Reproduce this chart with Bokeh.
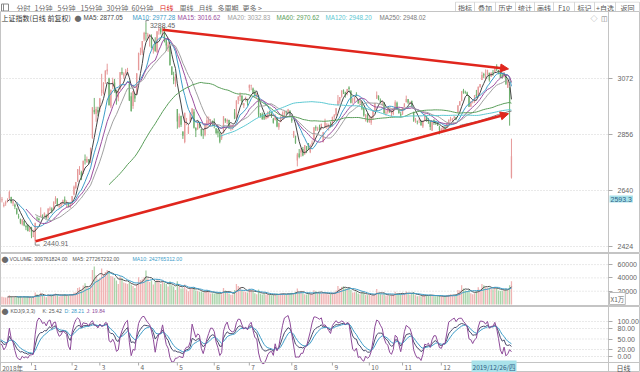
import numpy as np
from bokeh.plotting import figure
from bokeh.layouts import column
from bokeh.models import Range1d, FixedTicker, Label, Arrow, NormalHead, NumeralTickFormatter, LinearAxis
from bokeh.core.properties import value
from bokeh.embed import file_html
from bokeh.resources import INLINE

CJK = "Noto Sans CJK SC"
LAT = "Liberation Sans"

# ---------------- data (daily, 2018-12-06 .. 2020-02-03) ----------------
opens = [
    # 2018-12
    2604, 2602, 2580, 2590, 2598, 2610, 2614, 2590, 2585, 2570, 2540, 2530, 2510, 2522, 2503, 2505, 2489,
    # 2019-01
    2497, 2461, 2446, 2535, 2531, 2540, 2540, 2540, 2545, 2536, 2567, 2570, 2567, 2596, 2608, 2577, 2580, 2591, 2605, 2593, 2590, 2578,
    # 02
    2587, 2625, 2650, 2674, 2715, 2710, 2705, 2760, 2750, 2760, 2748, 2842, 2950, 2935, 2950,
    # 03
    2954, 3016, 3025, 3060, 3100, 3071, 2964, 3041, 3056, 3020, 2999, 3030, 3097, 3080, 3092, 3101, 3050, 3003, 2966, 3010, 3011,
    # 04
    3104, 3176, 3171, 3222, 3248, 3236, 3237, 3230, 3182, 3210, 3174, 3256, 3265, 3258, 3268, 3220, 3190, 3196, 3117, 3078, 3052,
    # 05
    2954, 2885, 2927, 2867, 2827, 2903, 2860, 2906, 2934, 2943, 2881, 2876, 2895, 2877, 2855, 2854, 2890, 2899, 2897, 2906,
    # 06
    2905, 2879, 2870, 2863, 2842, 2861, 2917, 2906, 2911, 2882, 2886, 2940, 2919, 2988, 3001, 3006, 2968, 2990, 2990,
    # 07
    3036, 3043, 3033, 3019, 3001, 3006, 2933, 2935, 2931, 2918, 2920, 2943, 2935, 2916, 2913, 2920, 2884, 2904, 2922, 2934, 2943, 2943, 2948,
    # 08
    2917, 2849, 2851, 2756, 2782, 2787, 2800, 2780, 2810, 2823, 2788, 2818, 2835, 2883, 2874, 2884, 2882, 2827, 2882, 2894, 2887, 2894,
    # 09
    2887, 2923, 2931, 2969, 2986, 3002, 3026, 3018, 3014, 3037, 3025, 2985, 2985, 3008, 2990, 2978, 2982, 2958, 2922, 2929,
    # 10
    2905, 2901, 2925, 2947, 2995, 3005, 2989, 2977, 2979, 2937, 2943, 2951, 2938, 2935, 2957, 2978, 2952, 2935,
    # 11
    2933, 2961, 2980, 2992, 2977, 2986, 2943, 2906, 2907, 2910, 2906, 2887, 2912, 2926, 2905, 2904, 2870, 2913, 2904, 2903, 2885,
    # 12
    2868, 2870, 2880, 2885, 2895, 2910, 2913, 2919, 2922, 2942, 2970, 2985, 3026, 3018, 3017, 3003, 2964, 2980, 2982, 3010, 3002, 3039,
    # 2020-01
    3066, 3089, 3070, 3085, 3094, 3079, 3096, 3097, 3119, 3104, 3090, 3087, 3083, 3088, 3036, 3037,
    # 2020-02
    2690,
]
highs = [
    2626, 2615, 2594, 2601, 2610, 2640, 2616, 2601, 2590, 2573, 2550, 2532, 2530, 2525, 2508, 2510, 2500,
    2500, 2489, 2515, 2540, 2535, 2575, 2548, 2555, 2548, 2571, 2578, 2575, 2598, 2618, 2610, 2587, 2594, 2605, 2617, 2602, 2593, 2596,
    2618, 2659, 2673, 2723, 2734, 2716, 2755, 2779, 2771, 2761, 2805, 2961, 2997, 2963, 2963,
    2997, 3090, 3058, 3103, 3129, 3075, 3030, 3075, 3070, 3029, 3034, 3097, 3114, 3096, 3109, 3113, 3063, 3018, 3024, 3014, 3093,
    3172, 3191, 3216, 3252, 3288.45, 3248, 3243, 3242, 3196, 3231, 3254, 3270, 3266, 3275, 3269, 3225, 3212, 3198, 3120, 3098, 3089,
    2954, 2937, 2929, 2868, 2940, 2920, 2893, 2942, 2958, 2954, 2884, 2907, 2905, 2878, 2875, 2900, 2927, 2925, 2916, 2910,
    2918, 2881, 2877, 2864, 2862, 2926, 2917, 2917, 2913, 2895, 2892, 2954, 2988, 3003, 3018, 3006, 2978, 3002, 2994,
    3049, 3048, 3037, 3028, 3016, 3006, 2939, 2941, 2939, 2934, 2945, 2948, 2943, 2920, 2934, 2921, 2902, 2927, 2945, 2946, 2948, 2955, 2948,
    2923, 2870, 2851, 2785, 2800, 2805, 2808, 2815, 2811, 2823, 2817, 2833, 2884, 2891, 2886, 2894, 2897, 2866, 2917, 2900, 2898, 2905,
    2924, 2935, 2958, 3008, 3000, 3026, 3030, 3021, 3032, 3042, 3025, 2997, 3000, 3019, 2991, 2986, 2982, 2962, 2935, 2939,
    2931, 2925, 2949, 2979, 3022, 3007, 2995, 2987, 2981, 2950, 2957, 2956, 2950, 2958, 2988, 2983, 2956, 2943,
    2961, 2976, 3006, 2992, 2984, 2986, 2943, 2920, 2910, 2918, 2912, 2910, 2936, 2927, 2920, 2907, 2906, 2913, 2909, 2904, 2890,
    2882, 2887, 2891, 2901, 2914, 2924, 2918, 2928, 2924, 2968, 2985, 3023, 3032, 3025, 3021, 3005, 2983, 2986, 3008, 3028, 3041, 3050,
    3098, 3094, 3107, 3105, 3094, 3095, 3105, 3116, 3127, 3105, 3095, 3092, 3096, 3088, 3068, 3037,
    2840,
]
lows = [
    2595, 2594, 2575, 2581, 2594, 2605, 2590, 2580, 2568, 2547, 2531, 2510, 2505, 2502, 2487, 2483, 2480,
    2456, 2460, 2440.91, 2525, 2521, 2538, 2530, 2537, 2530, 2531, 2560, 2552, 2563, 2588, 2579, 2571, 2575, 2585, 2591, 2574, 2575, 2572,
    2585, 2621, 2645, 2674, 2700, 2680, 2705, 2740, 2746, 2742, 2746, 2840, 2934, 2905, 2927,
    2943, 3005, 3010, 3051, 3087, 2967, 2958, 3031, 3017, 2971, 2984, 3030, 3085, 3070, 3087, 3085, 2985, 2944, 2955, 2981, 3010,
    3104, 3162, 3163, 3215, 3218, 3224, 3195, 3188, 3168, 3175, 3170, 3241, 3242, 3238, 3211, 3178, 3175, 3121, 3085, 3050, 3040,
    2878, 2882, 2885, 2839, 2822, 2892, 2858, 2904, 2927, 2879, 2846, 2874, 2880, 2849, 2839, 2849, 2881, 2895, 2888, 2888,
    2880, 2856, 2845, 2822, 2835, 2861, 2901, 2896, 2877, 2870, 2874, 2915, 2918, 2973, 2985, 2970, 2958, 2983, 2967,
    3022, 3027, 3012, 3003, 2995, 2923, 2921, 2913, 2912, 2914, 2918, 2931, 2920, 2898, 2910, 2884, 2874, 2903, 2915, 2925, 2932, 2938, 2926,
    2901, 2843, 2820, 2733, 2764, 2770, 2772, 2778, 2784, 2796, 2784, 2812, 2832, 2870, 2870, 2873, 2875, 2825, 2881, 2877, 2871, 2883,
    2887, 2913, 2928, 2968, 2975, 2998, 3012, 2998, 3007, 3021, 2976, 2975, 2980, 3003, 2974, 2969, 2950, 2925, 2906, 2902,
    2901, 2893, 2913, 2947, 2993, 2988, 2976, 2966, 2936, 2929, 2936, 2940, 2924, 2930, 2957, 2951, 2936, 2922,
    2932, 2961, 2980, 2974, 2973, 2961, 2905, 2901, 2895, 2900, 2891, 2881, 2906, 2905, 2897, 2873, 2870, 2893, 2893, 2889, 2857,
    2863, 2867, 2872, 2881, 2892, 2906, 2904, 2915, 2911, 2940, 2966, 2984, 3013, 3013, 3004, 2962, 2962, 2976, 2978, 2997, 2998, 3036,
    3066, 3074, 3065, 3084, 3060, 3079, 3082, 3096, 3100, 3088, 3074, 3071, 3075, 3047, 3036, 2890,
    2686,
]
closes = [
    2605, 2606, 2585, 2594, 2602, 2634, 2594, 2598, 2577, 2550, 2536, 2516, 2527, 2505, 2498, 2483, 2494,
    2465, 2464, 2515, 2533, 2526, 2544, 2535, 2554, 2536, 2570, 2570, 2560, 2596, 2611, 2580, 2581, 2592, 2602, 2597, 2594, 2576, 2585,
    2618, 2654, 2672, 2721, 2720, 2682, 2754, 2756, 2761, 2752, 2804, 2961, 2942, 2954, 2941,
    2994, 3028, 3054, 3102, 3106, 2970, 3027, 3060, 3027, 2991, 3022, 3096, 3091, 3091, 3101, 3104, 2987, 2947, 3023, 2995, 3091,
    3170, 3177, 3216, 3247, 3245, 3240, 3242, 3190, 3189, 3178, 3254, 3263, 3250, 3271, 3215, 3199, 3202, 3124, 3086, 3063, 3078,
    2906, 2926, 2894, 2851, 2939, 2904, 2884, 2939, 2956, 2882, 2871, 2906, 2892, 2853, 2853, 2892, 2910, 2915, 2906, 2899,
    2890, 2862, 2861, 2828, 2852, 2926, 2909, 2911, 2882, 2888, 2890, 2918, 2987, 3002, 3008, 2982, 2976, 2997, 2979,
    3045, 3044, 3015, 3005, 3011, 2933, 2928, 2915, 2918, 2931, 2942, 2938, 2932, 2901, 2924, 2887, 2900, 2923, 2937, 2945, 2941, 2952, 2933,
    2909, 2868, 2822, 2778, 2769, 2795, 2775, 2815, 2797, 2809, 2816, 2824, 2883, 2880, 2880, 2883, 2897, 2864, 2902, 2894, 2891, 2886,
    2924, 2930, 2957, 2986, 3000, 3025, 3021, 3009, 3031, 3031, 2978, 2985, 2999, 3006, 2977, 2985, 2955, 2929, 2932, 2905,
    2914, 2925, 2948, 2974, 3008, 2991, 2979, 2977, 2938, 2940, 2954, 2942, 2941, 2955, 2980, 2954, 2939, 2929,
    2958, 2975, 2992, 2979, 2979, 2964, 2910, 2915, 2905, 2910, 2891, 2909, 2934, 2911, 2904, 2885, 2906, 2907, 2903, 2890, 2872,
    2876, 2885, 2878, 2899, 2912, 2914, 2917, 2924, 2916, 2968, 2984, 3022, 3017, 3017, 3005, 2963, 2983, 2982, 3007, 3005, 3040, 3050,
    3085, 3084, 3083, 3105, 3067, 3095, 3092, 3116, 3107, 3090, 3074, 3076, 3096, 3052, 3061, 2977,
    2772,
]
volumes = [  # unit: 万
    13000, 11500, 11000, 10500, 10800, 14000, 12000, 10500, 11000, 11800, 11500, 12500, 10000, 12000, 10500, 12000, 11500,
    10200, 11800, 18000, 15500, 13500, 17500, 13500, 12500, 11000, 15500, 14500, 13000, 15800, 16500, 15000, 12000, 12800, 15000, 15800, 14500, 13000, 14500,
    15000, 18000, 18000, 25000, 26000, 21000, 28500, 32000, 27000, 25000, 29000, 52000, 57000, 44000, 38000,
    40000, 54000, 46000, 49000, 52000, 49000, 43000, 42000, 40000, 36000, 31000, 42000, 40000, 33000, 32000, 31000, 33000, 30000, 28000, 25000, 31000,
    41000, 37000, 38000, 41000, 51000, 39000, 34000, 36000, 30000, 34000, 38000, 36000, 31000, 34000, 33000, 31000, 27000, 35000, 29000, 27000, 22000,
    35000, 27000, 24000, 24500, 30000, 23000, 20000, 25000, 26000, 25000, 21000, 20500, 19000, 19500, 18000, 18500, 22000, 20000, 16500, 17000,
    16500, 18000, 17000, 17500, 15500, 25000, 21000, 18000, 16500, 14500, 15000, 22000, 31000, 28000, 26500, 21000, 19500, 19000, 18000,
    24000, 21500, 19000, 17000, 15500, 22500, 16500, 15000, 16500, 15000, 15500, 14500, 14000, 15000, 14500, 17000, 15500, 16000, 16500, 15500, 15000, 17000, 16000,
    17500, 16500, 19000, 24000, 17500, 18500, 17000, 15500, 15000, 16500, 16000, 15000, 21500, 20000, 18000, 17500, 17000, 17500, 17500, 16000, 15000, 15500,
    18000, 18500, 21000, 28000, 24000, 26500, 27500, 24000, 23500, 25000, 22000, 18000, 18500, 19500, 16500, 15500, 18000, 17500, 14500, 14000,
    14500, 13000, 15500, 16000, 23500, 17500, 15500, 14500, 16500, 13500, 14000, 13000, 14500, 15000, 19000, 17000, 15500, 15000,
    17500, 16500, 19500, 16500, 15000, 16500, 18500, 14000, 12500, 13000, 12500, 13000, 15000, 14500, 13000, 14500, 13500, 13500, 12500, 12500, 13000,
    12500, 11500, 12000, 14000, 14500, 15500, 13500, 14000, 14500, 22000, 21000, 29000, 24000, 21000, 20000, 22000, 17000, 15500, 17000, 20500, 26000, 22500,
    31000, 29000, 26000, 25000, 25500, 24500, 23000, 26500, 25000, 21000, 20500, 21000, 22000, 24500, 23000, 29000,
    35000,
]
month_tick_idx = [0, 17, 39, 54, 75, 96, 116, 135, 158, 180, 200, 218, 239]
month_tick_labels = ["2018年", "1", "2", "3", "4", "5", "6", "7", "8", "9", "10", "11", "12"]
cursor_idx = 257
cursor_label = "2019/12/26/四"
cursor_price = 2593.3
price_ticks = [2424, 2640, 2856, 3072]
vol_ticks = [20000, 40000, 60000]
kdj_ticks = [0, 20, 50, 80, 100]
ma_windows = [5, 10, 15, 20, 60, 120, 250]
ma_values_text = ["2877.05", "2977.28", "3016.62", "3032.83", "2970.62", "2948.20", "2948.02"]
vol_header = ["VOLUME: 309761824.00", "MA5: 277267232.00", "MA10: 242765312.00"]
kdj_header = ["KDJ(9,3,3)", "K: 25.42", "D: 28.21", "J: 19.84"]
trend_upper = ([88.0, 275.4], [3260.0, 3109.0])
trend_lower = ([19.2, 275.4], [2444.0, 2936.0])

# ---------------- styles ----------------
MA_COLORS = ["#454545", "#3d9cc8", "#9a4e9e", "#a0a0a0", "#5a9e5a", "#5cc8d2", "#7a7a7a"]
UP_C, DN_C = "#e69a9a", "#6fb06f"
VUP_C, VDN_C = "#f0b4b4", "#a9d3a9"
RED = "#e0261d"
GRID = "#d3d3d3"
AX = "#c4c4c4"
TXT = "#666666"

N = min(len(opens), len(highs), len(lows), len(closes), len(volumes))
o = np.array(opens[:N], float)
h = np.array(highs[:N], float)
l = np.array(lows[:N], float)
c = np.array(closes[:N], float)
v = np.array(volumes[:N], float)
xi = np.arange(N)
up = c >= o


def sma(a, w):
    out = np.full(len(a), np.nan)
    if len(a) >= w:
        out[w - 1:] = np.convolve(a, np.ones(w) / w, mode="valid")
    return out


# KDJ(9,3,3)
K = np.zeros(N)
D = np.zeros(N)
kp = dp = 50.0
for i in range(N):
    lo = l[max(0, i - 8):i + 1].min()
    hi = h[max(0, i - 8):i + 1].max()
    rsv = 50.0 if hi == lo else (c[i] - lo) / (hi - lo) * 100
    kp = 2 / 3 * kp + rsv / 3
    dp = 2 / 3 * dp + kp / 3
    K[i] = kp
    D[i] = dp
J = 3 * K - 2 * D

# ---------------- layout (pixels) ----------------
W = 640
AXIS_PX = 608          # x pixel of the right value axis
TOP_H, PRICE_H, VOL_H, KDJ_H, DATE_H = 11, 242, 53, 56, 10
XR = Range1d(0.2, 346.9)
PPU = W / (XR.end - XR.start)
X_AX = XR.start + AXIS_PX / PPU


def pane(hgt, y0, y1, ticks, fmt=None):
    p = figure(width=W, height=hgt, x_range=XR, y_range=Range1d(y0, y1),
               output_backend="svg", toolbar_location=None, x_axis_location=None, y_axis_location=None,
               min_border=0, outline_line_color=AX, background_fill_color="white", border_fill_color="white")
    p.grid.visible = False
    ax = LinearAxis(fixed_location=X_AX, ticker=FixedTicker(ticks=ticks))
    ax.major_label_text_font_size = "7px"
    ax.major_label_text_font = LAT
    ax.major_label_text_color = TXT
    ax.major_tick_out = 4
    ax.major_tick_in = 0
    ax.minor_tick_line_color = None
    ax.axis_line_color = AX
    ax.major_tick_line_color = "#aaaaaa"
    ax.major_label_standoff = 5
    if fmt is not None:
        ax.formatter = fmt
    p.add_layout(ax, "right")
    # dotted horizontal grid up to the value axis
    p.segment(x0=[XR.start] * len(ticks), y0=ticks, x1=[X_AX] * len(ticks), y1=ticks,
              line_color=GRID, line_dash="1 2", line_width=1)
    return p


def lab(p, txt, x, y_from_top, hgt, col=TXT, font=LAT, size="6px", **kw):
    p.add_layout(Label(x=x, y=hgt - y_from_top, x_units="screen", y_units="screen", text=txt,
                       text_font=font, text_font_size=size, text_color=col,
                       text_baseline=kw.pop("baseline", "middle"), **kw))


# ---- top toolbar ----
top = figure(width=W, height=TOP_H, x_range=Range1d(0, W), y_range=Range1d(TOP_H, 0),
             output_backend="svg", toolbar_location=None, x_axis_location=None, y_axis_location=None,
             min_border=0, outline_line_color=None)
top.grid.visible = False
tabs = ["分时", "1分钟", "5分钟", "15分钟", "30分钟", "60分钟", "日线", "周线", "月线", "多周期", "更多 >"]
tab_x = [16, 34, 57, 80, 106, 131, 159, 179, 198, 217, 242]
tab_col = [TXT] * len(tabs)
tab_col[6] = RED
top.text(x=tab_x, y=[6] * len(tabs), text=tabs, text_font=value(CJK), text_font_size="7px",
         text_color=tab_col, text_baseline="middle")
top.quad(left=[1], right=[8], top=[2.5], bottom=[9.5], fill_color=None, line_color="#888888")
top.segment(x0=[3], y0=[2.5], x1=[3], y1=[9.5], line_color="#888888")
btns = ["指标", "叠加", "历史", "统计", "画线", "F10", "标记", "+自选", "返回"]
btn_edges = [455, 474, 495, 515, 534, 553, 574, 594, 615, 639]
btn_cx = [(btn_edges[i] + btn_edges[i + 1]) / 2 for i in range(len(btns))]
top.quad(left=btn_edges[:-1], right=btn_edges[1:], top=[0.5] * len(btns), bottom=[11] * len(btns),
         fill_color="white", line_color="#d6d6d6", line_width=1)
top.text(x=btn_cx, y=[6] * len(btns), text=btns, text_font=value(CJK), text_font_size="7px",
         text_color="#555555", text_align="center", text_baseline="middle")

# ---- price pane ----
P_TOP, P_BOT = 3330.4, 2397.0
ppv = PRICE_H / (P_TOP - P_BOT)
pp = pane(PRICE_H, P_BOT, P_TOP, price_ticks)
pp.segment(xi, h, xi, l, color=[UP_C if u else DN_C for u in up], line_width=1)
pp.vbar(x=xi, bottom=np.minimum(o, c), top=np.maximum(o, c) + 0.5, width=0.7,
        fill_color=[UP_C if u else DN_C for u in up], line_color=None)
for w, col in zip(ma_windows, MA_COLORS):
    pp.line(xi, sma(c, w), line_color=col, line_width=1)
for xs, ys in (trend_upper, trend_lower):
    pp.add_layout(Arrow(x_start=xs[0], y_start=ys[0], x_end=xs[1], y_end=ys[1],
                        line_color=RED, line_width=2.5,
                        end=NormalHead(size=8, fill_color=RED, line_color=RED)))
ih = int(np.argmax(h))
il = int(np.argmin(l))
# small hooks pointing at the extreme values
pp.line([ih, ih, ih + 1.6], [h[ih], h[ih] + 2 / ppv, h[ih] + 2 / ppv], line_color="#888888", line_width=1)
pp.line([il, il, il + 2.5], [l[il], l[il] - 3 / ppv, l[il] - 3 / ppv], line_color="#888888", line_width=1)
pp.add_layout(Label(x=ih, y=h[ih], text=f"{h[ih]:.2f}", x_offset=4, y_offset=-3, text_font=LAT,
                    text_font_size="7px", text_color=TXT, text_baseline="middle"))
pp.add_layout(Label(x=il, y=l[il], text=f"{l[il]:.2f}", x_offset=8, y_offset=-1.5, text_font=LAT,
                    text_font_size="7px", text_color=TXT, text_baseline="middle"))
lab(pp, "上证指数(日线 前复权)", 1, 6, PRICE_H, "#333333", CJK, "7px")
lab(pp, "●", 74, 6, PRICE_H, "#6a6a6a", CJK, "7px")
ma_x = [83, 132, 177, 227, 276, 325, 379]
for w, t, col, xp in zip(ma_windows, ma_values_text, MA_COLORS, ma_x):
    lab(pp, f"MA{w}: {t}", xp, 6, PRICE_H, col, LAT, "6.3px")
lab(pp, "◇", 590, 6, PRICE_H, "#888888", CJK, "7px")
lab(pp, "◫", 600, 6, PRICE_H, "#777777", CJK, "7px")
pp.add_layout(Label(x=X_AX, y=cursor_price, text=f"{cursor_price:.1f}", text_font=LAT,
                    text_font_size="7px", text_color="#2f5f86", text_baseline="bottom",
                    background_fill_color="#a9e2ea", x_offset=1, padding=1))

# ---- volume pane ----
vp = pane(VOL_H, -3000, 76700, vol_ticks)
vp.vbar(x=xi, top=v, bottom=0, width=0.7, fill_color=[VUP_C if u else VDN_C for u in up], line_color=None)
vp.line(xi, sma(v, 5), line_color="#555555", line_width=1)
vp.line(xi, sma(v, 10), line_color="#3d9cc8", line_width=1)
lab(vp, "●", 1, 5, VOL_H, "#6a6a6a", CJK, "7px")
for t, xp, col in zip(vol_header, [9, 72, 132], ["#555555", "#555555", "#3d9cc8"]):
    lab(vp, t, xp, 5, VOL_H, col, LAT, "5.2px")
vp.add_layout(Label(x=X_AX, y=0, text="X1万", text_font=CJK, text_font_size="6.5px", text_color=TXT,
                    text_baseline="bottom", x_offset=1, border_line_color="#bbbbbb",
                    background_fill_color="white", padding=1))

# ---- KDJ pane (with date axis drawn inside the same canvas) ----
K_TOP, K_BOT = 142.9, -17.1
kppv = KDJ_H / (K_TOP - K_BOT)
K_MIN = K_BOT - DATE_H / kppv
kp_ = pane(KDJ_H + DATE_H, K_MIN, K_TOP, kdj_ticks, NumeralTickFormatter(format="0.00"))
kp_.line(xi, K, line_color="#4a4a6a", line_width=1)
kp_.line(xi, D, line_color="#3d9cc8", line_width=1)
kp_.line(xi, J, line_color="#8e4b9a", line_width=1)
lab(kp_, "●", 1, 4, KDJ_H + DATE_H, "#6a6a6a", CJK, "7px")
for t, xp, col in zip(kdj_header, [10, 42, 64, 86], ["#555555", "#555555", "#3d9cc8", "#8e4b9a"]):
    lab(kp_, t, xp, 4, KDJ_H + DATE_H, col, LAT, "5.2px")
# date axis: base line, month ticks and labels
kp_.segment(x0=[XR.start], y0=[K_BOT], x1=[XR.end], y1=[K_BOT], line_color=AX, line_width=1)
mt = np.array(month_tick_idx, float)
kp_.segment(x0=mt, y0=[K_BOT] * len(mt), x1=mt, y1=[K_BOT - 3 / kppv] * len(mt),
            line_color="#aaaaaa", line_width=1)
kp_.text(x=mt, y=[K_BOT - 5 / kppv] * len(mt), text=month_tick_labels, x_offset=2,
         text_font=value(CJK), text_font_size="6.5px", text_color=TXT, text_baseline="middle")
kp_.add_layout(Label(x=cursor_idx, y=K_MIN, text=cursor_label, text_font=CJK,
                     text_font_size="6.5px", text_color="#2f5f86", text_baseline="bottom",
                     background_fill_color="#a9e2ea", x_offset=-3, padding=1))
lab(kp_, "日线", 616, KDJ_H + 5, KDJ_H + DATE_H, "#555555", CJK, "7px")

layout = column(top, pp, vp, kp_, spacing=0)
open("out.html", "w").write(file_html(layout, INLINE))
